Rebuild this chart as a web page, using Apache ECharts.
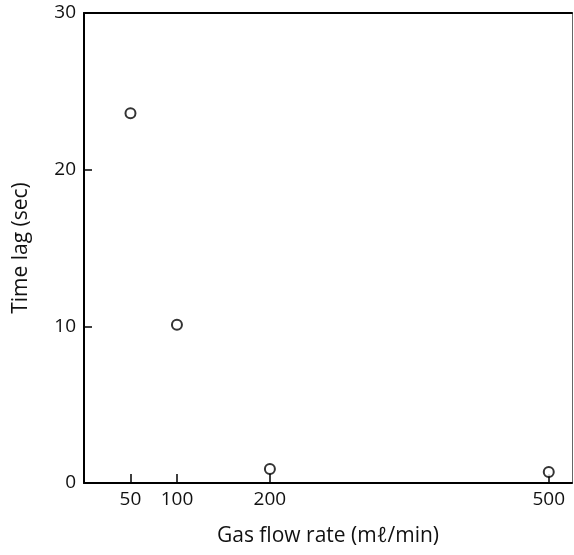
<!DOCTYPE html>
<html>
<head>
<meta charset="utf-8">
<script src="https://cdn.jsdelivr.net/npm/echarts@6/dist/echarts.min.js"></script>
<style>html,body{margin:0;padding:0;background:#fff;}#c{width:574px;height:555px;}</style>
</head>
<body>
<div id="c"></div>
<script>
var flowRates = [50, 100, 200, 500];
var timeLags = [23.6, 10.1, 0.9, 0.7];
var xTicks = [50, 100, 200, 500];
var yTicks = [0, 10, 20, 30];

var FONT = 'Open Sans';
var chart = echarts.init(document.getElementById('c'));
chart.setOption({
  backgroundColor: '#fff',
  animation: false,
  grid: {left: 84, right: 2, top: 13, bottom: 72},
  xAxis: [{
    type: 'value', min: 0, max: 525,
    name: 'Gas flow rate (mℓ/min)', nameLocation: 'middle', nameGap: 43,
    nameTextStyle: {fontFamily: FONT, fontSize: 21, color: '#111'},
    axisLine: {show: true, onZero: false, lineStyle: {color: '#000', width: 2}},
    axisTick: {show: true, inside: true, length: 9, customValues: xTicks, lineStyle: {color: '#000', width: 1.5}},
    axisLabel: {customValues: xTicks, fontFamily: FONT, fontSize: 19, color: '#111', margin: 7},
    splitLine: {show: false}
  }, {
    type: 'value', min: 0, max: 525, position: 'top',
    axisLine: {show: true, onZero: false, lineStyle: {color: '#000', width: 2}},
    axisTick: {show: false}, axisLabel: {show: false}, splitLine: {show: false}
  }],
  yAxis: [{
    type: 'value', min: 0, max: 30, interval: 10,
    name: 'Time lag (sec)', nameLocation: 'middle', nameGap: 52,
    nameTextStyle: {fontFamily: FONT, fontSize: 21, color: '#111'},
    axisLine: {show: true, onZero: false, lineStyle: {color: '#000', width: 2}},
    axisTick: {show: true, inside: true, length: 8, customValues: [10, 20], lineStyle: {color: '#000', width: 1.5}},
    axisLabel: {customValues: yTicks, fontFamily: FONT, fontSize: 19, color: '#111', margin: 8},
    splitLine: {show: false}
  }, {
    type: 'value', min: 0, max: 30, position: 'right',
    axisLine: {show: true, onZero: false, lineStyle: {color: '#666', width: 1}},
    axisTick: {show: false}, axisLabel: {show: false}, splitLine: {show: false}
  }],
  series: [{
    type: 'scatter',
    data: flowRates.map(function (x, i) { return [x, timeLags[i]]; }),
    symbol: 'circle', symbolSize: 10,
    itemStyle: {color: '#fff', borderColor: '#000', borderWidth: 2}
  }]
});
</script>
</body>
</html>
